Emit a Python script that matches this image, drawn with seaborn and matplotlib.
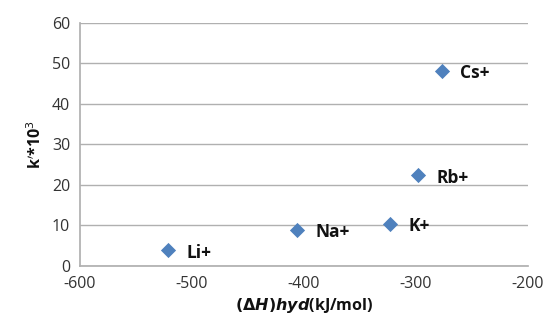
import pandas as pd
import matplotlib
matplotlib.use("Agg")
import matplotlib.pyplot as plt
import seaborn as sns

# values
ions = ["Li+", "Na+", "K+", "Rb+", "Cs+"]
dh_hyd = [-521, -406, -323, -298, -277]
k_prime = [3.8, 8.8, 10.3, 22.3, 48.1]

df = pd.DataFrame({"ion": ions, "dH": dh_hyd, "k": k_prime})

sns.set_theme(style="white")
plt.rcParams['font.family'] = ['Open Sans', 'DejaVu Sans']
plt.rcParams['mathtext.fontset'] = 'dejavusans'
plt.rcParams['axes.unicode_minus'] = False

fig = plt.figure(figsize=(5.47, 3.29), dpi=100)
ax = fig.add_axes([0.146, 0.192, 0.819, 0.739])

sns.scatterplot(x="dH", y="k", data=df, marker="D", s=60, color="#4F81BD",
                edgecolor="#4F81BD", linewidth=0, ax=ax, zorder=3)

for name, x, y in zip(ions, dh_hyd, k_prime):
    ax.annotate(name, (x, y), xytext=(13, -1.5), textcoords="offset points",
                fontsize=12.5, fontweight="bold", va="center", color="#111111")

ax.set_xlim(-600, -200)
ax.set_ylim(0, 60)
ax.set_xticks(range(-600, -199, 100))
ax.set_yticks(range(0, 61, 10))
ax.yaxis.grid(True, color="#b0b0b0", linewidth=1)
ax.xaxis.grid(False)
for side in ["top", "right"]:
    ax.spines[side].set_visible(False)
for side in ["left", "bottom"]:
    ax.spines[side].set_color("#b0b0b0")
ax.tick_params(axis="both", labelsize=11.5, colors="#333333", length=0, pad=7)

ax.set_xlabel(r"$\mathbf{(\Delta}\mathbfit{H}\mathbf{)}\mathbfit{hyd}$(kJ/mol)",
              fontsize=11.5, fontweight="bold", color="#111111", labelpad=3)
ax.set_ylabel(r"k$'$*10$^{3}$", fontsize=11.5, fontweight="bold", color="#111111", labelpad=5)

fig.savefig("out.png", dpi=100)
